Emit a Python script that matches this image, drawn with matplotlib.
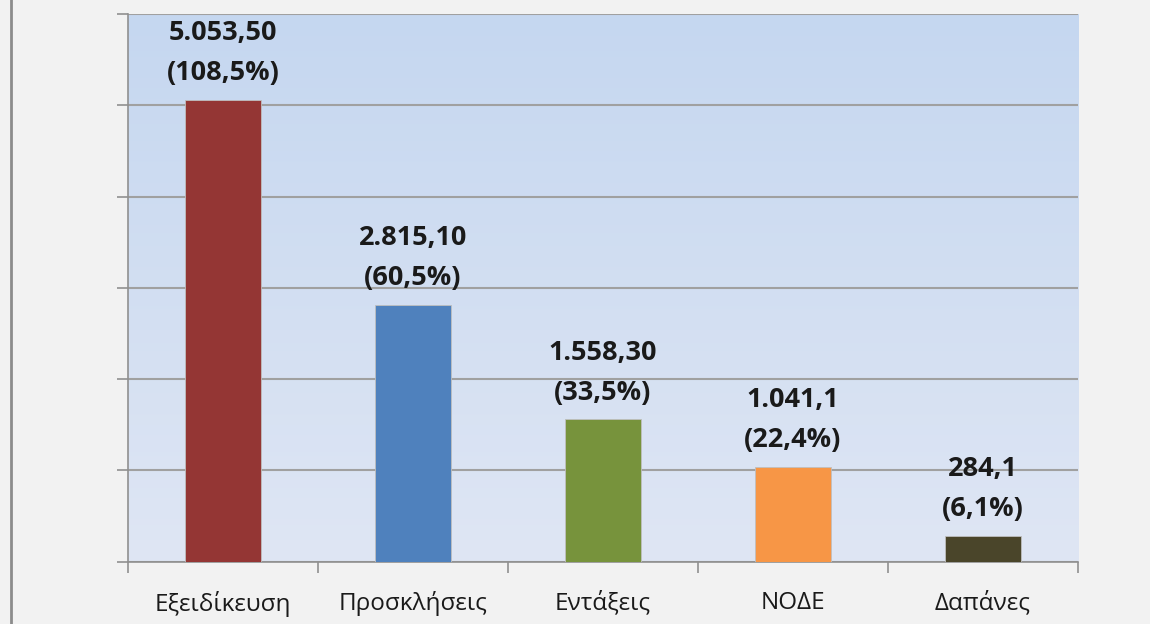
import numpy as np
import matplotlib.pyplot as plt
from matplotlib.colors import LinearSegmentedColormap

categories = ['Εξειδίκευση', 'Προσκλήσεις', 'Εντάξεις', 'ΝΟΔΕ', 'Δαπάνες']
values = [5053.50, 2815.10, 1558.30, 1041.1, 284.1]
value_labels = ['5.053,50', '2.815,10', '1.558,30', '1.041,1', '284,1']
pct_labels = ['(108,5%)', '(60,5%)', '(33,5%)', '(22,4%)', '(6,1%)']
colors = ['#943634', '#4f81bd', '#77933c', '#f79646', '#4a452a']

plt.rcParams['font.family'] = ['Open Sans', 'DejaVu Sans']

fig = plt.figure(figsize=(11.5, 6.24), dpi=100, facecolor='#f2f2f2')
ax = fig.add_axes([0.1113, 0.0998, 0.8261, 0.8778])

# gradient background of the plot area
grad = LinearSegmentedColormap.from_list('bg', ['#dfe6f4', '#c5d7f0'])
ax.imshow(np.linspace(0, 1, 256).reshape(-1, 1), cmap=grad, origin='lower',
          extent=[-0.5, 4.5, 0, 6000], aspect='auto', zorder=0)

x = np.arange(len(categories))
ax.bar(x, values, width=0.4, color=colors, edgecolor='#bfbfbf', linewidth=0.6, zorder=3)

for i, v in enumerate(values):
    ax.annotate(value_labels[i] + '\n' + pct_labels[i], (x[i], v),
                xytext=(0, 10), textcoords='offset points', ha='center', va='bottom',
                fontsize=19.5, fontweight='bold', color='#1a1a1a', linespacing=1.7, zorder=5)

ax.set_xlim(-0.5, 4.5)
ax.set_ylim(0, 6000)
ax.set_yticks(np.arange(0, 6001, 1000))
ax.set_yticklabels([])
ax.yaxis.grid(True, color='#a0a0a0', linewidth=1.5, zorder=1)
ax.set_axisbelow(True)

ax.set_xticks(x)
ax.set_xticklabels(categories, fontsize=17.5, color='#1a1a1a')
ax.tick_params(axis='x', length=0, pad=21)
ax.set_xticks(np.arange(-0.5, 5, 1), minor=True)
ax.tick_params(axis='x', which='minor', length=8, color='#909090', width=1.2)
ax.tick_params(axis='y', length=8, color='#909090', width=1.2, direction='out')

for s in ['top', 'right']:
    ax.spines[s].set_visible(False)
for s in ['left', 'bottom']:
    ax.spines[s].set_color('#909090')
    ax.spines[s].set_linewidth(1.2)

# gray border line on the left of the figure
fig.add_artist(plt.Line2D([0.0095, 0.0095], [0, 1], color='#8c8c8c', linewidth=2))

fig.savefig('out.png', dpi=100, facecolor=fig.get_facecolor())
